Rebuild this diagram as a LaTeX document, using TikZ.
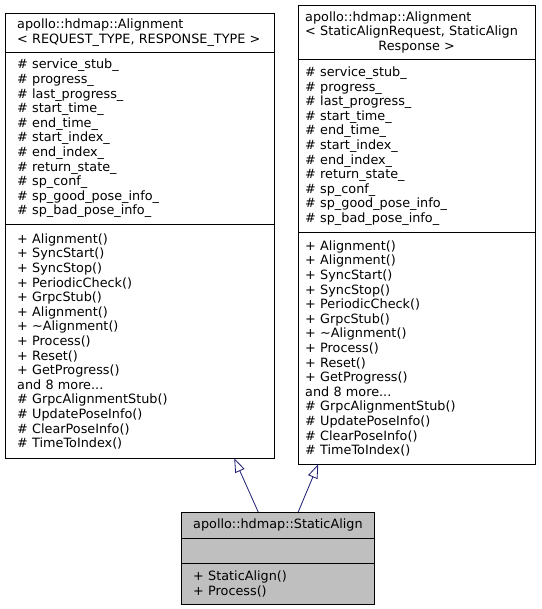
\documentclass[tikz,border=0pt]{standalone}
\usepackage{fontspec}
\setmainfont{DejaVu Sans}
\usetikzlibrary{arrows.meta}
\definecolor{edgeblue}{RGB}{25,25,112}
\definecolor{classgray}{RGB}{191,191,191}

\begin{document}
\begin{tikzpicture}[x=1pt,y=-1pt,
  cell/.style={anchor=north west,align=left,inner ysep=0pt,
    font=\fontsize{12.8}{14.6}\selectfont},
  leftcell/.style={cell,text width=245,inner xsep=12},
  rightcell/.style={cell,text width=223,inner xsep=7},
  basecell/.style={cell,text width=169,inner xsep=12,fill=classgray},
  frame/.style={draw=black,line width=0.8pt},
  inherit/.style={draw=edgeblue,line width=0.8pt,-{Triangle[length=14pt,width=10pt,fill=white]}}]
\useasboundingbox (0,0) rectangle (541,609);
\node[leftcell,minimum height=39] (lt) at (5,13) {apollo::hdmap::Alignment\\< REQUEST\_TYPE, RESPONSE\_TYPE >};
\node[leftcell,minimum height=172] (la) at (lt.south west) {\# service\_stub\_\\\# progress\_\\\# last\_progress\_\\\# start\_time\_\\\# end\_time\_\\\# start\_index\_\\\# end\_index\_\\\# return\_state\_\\\# sp\_conf\_\\\# sp\_good\_pose\_info\_\\\# sp\_bad\_pose\_info\_};
\node[leftcell,minimum height=233] (lm) at (la.south west) {+ Alignment()\\+ SyncStart()\\+ SyncStop()\\+ PeriodicCheck()\\+ GrpcStub()\\+ Alignment()\\+ \textasciitilde Alignment()\\+ Process()\\+ Reset()\\+ GetProgress()\\and 8 more...\\\# GrpcAlignmentStub()\\\# UpdatePoseInfo()\\\# ClearPoseInfo()\\\# TimeToIndex()};
\draw[frame] (lt.north west) rectangle (lm.south east);
\draw[frame] (la.north west) -- (la.north east);
\draw[frame] (lm.north west) -- (lm.north east);
\node[rightcell,minimum height=54] (rt) at (298,5) {apollo::hdmap::Alignment\\< StaticAlignRequest, StaticAlign\\\makebox[\hsize]{Response >}};
\node[rightcell,minimum height=173] (ra) at (rt.south west) {\# service\_stub\_\\\# progress\_\\\# last\_progress\_\\\# start\_time\_\\\# end\_time\_\\\# start\_index\_\\\# end\_index\_\\\# return\_state\_\\\# sp\_conf\_\\\# sp\_good\_pose\_info\_\\\# sp\_bad\_pose\_info\_};
\node[rightcell,minimum height=231] (rm) at (ra.south west) {+ Alignment()\\+ Alignment()\\+ SyncStart()\\+ SyncStop()\\+ PeriodicCheck()\\+ GrpcStub()\\+ \textasciitilde Alignment()\\+ Process()\\+ Reset()\\+ GetProgress()\\and 8 more...\\\# GrpcAlignmentStub()\\\# UpdatePoseInfo()\\\# ClearPoseInfo()\\\# TimeToIndex()};
\draw[frame] (rt.north west) rectangle (rm.south east);
\draw[frame] (ra.north west) -- (ra.north east);
\draw[frame] (rm.north west) -- (rm.north east);
\node[basecell,align=center,minimum height=26] (st) at (181,512) {apollo::hdmap::StaticAlign};
\node[basecell,minimum height=25] (sa) at (st.south west) {};
\node[basecell,minimum height=40] (sm) at (sa.south west) {+ StaticAlign()\\+ Process()};
\draw[frame] (st.north west) rectangle (sm.south east);
\draw[frame] (sa.north west) -- (sa.north east);
\draw[frame] (sm.north west) -- (sm.north east);
\draw[inherit] ([xshift=-19.5]st.north) -- ([xshift=94.5]lm.south);
\draw[inherit] ([xshift=20.5]st.north) -- ([xshift=-98.5]rm.south);
\end{tikzpicture}
\end{document}
